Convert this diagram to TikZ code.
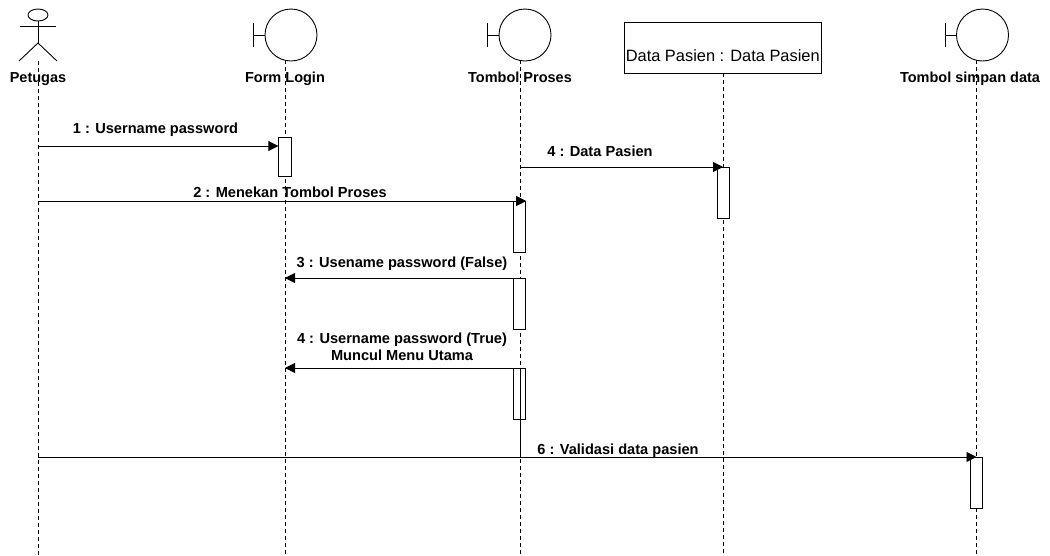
\documentclass[tikz,border=0pt]{standalone}
\usepackage{fontspec}
\setmainfont{Liberation Sans}
\usetikzlibrary{arrows.meta,shapes.geometric}
\tikzset{
  head/.style={draw, circle, minimum size=52pt, inner sep=0pt},
  life/.style={line width=0.8pt, dash pattern=on 4pt off 3pt},
  activation/.style={draw, line width=0.9pt, minimum width=12.5pt, inner sep=0pt},
  msg/.style={-{Triangle[length=10pt,width=10pt]}, line width=0.9pt},
  title/.style={font=\fontsize{14.5}{16}\selectfont\bfseries, inner sep=0pt, anchor=base},
  lbl/.style={font=\fontsize{14.6}{17}\selectfont\bfseries, inner sep=0pt, align=center, anchor=base}
}
\begin{document}
\begin{tikzpicture}[x=1pt, y=-1pt, line width=0.9pt]
    \useasboundingbox (0,0) rectangle (1050,555);
    % lifelines
    \coordinate (petugasTop) at (38,61);
    \coordinate (loginTop) at (285,60);
    \coordinate (prosesTop) at (520,60);
    \coordinate (pasienTop) at (723,73);
    \coordinate (simpanTop) at (976.5,60);
    \foreach \l in {petugas, login, proses, pasien, simpan}
      \draw [life] (\l Top) -- (\l Top |- 0,555);
    % actor
    \node (kepala) [draw, ellipse, minimum width=20pt, minimum height=12pt, inner sep=0pt] at (38,15) {};
    \coordinate (pinggul) at (38,43);
    \coordinate (tanganKiri) at (20,26);
    \coordinate (tanganKanan) at (56,26);
    \coordinate (kakiKiri) at (19,61);
    \coordinate (kakiKanan) at (57,61);
    \draw (kepala.south) -- (pinggul);
    \draw (tanganKiri) -- (tanganKanan);
    \draw (kakiKiri) -- (pinggul) -- (kakiKanan);
    % boundary objects
    \node (login) [head] at (291,35) {};
    \node (proses) [head] at (525,35) {};
    \node (simpan) [head] at (982.5,35) {};
    \foreach \b in {login, proses, simpan}
      \draw (\b.west) -- ++(-11,0) ++(0,-12) -- ++(0,24);
    \node (pasien) [draw, fill=white, minimum width=196.5pt, minimum height=51pt, inner sep=0pt] at (722.75,47.5) {};
    \node (pasienText) [font=\fontsize{16.4}{18}\selectfont, inner sep=0pt, anchor=base] at (722.75,61) {Data Pasien : Data Pasien};
    \node (petugasName) [title] at (38,82.5) {Petugas};
    \node (loginName) [title] at (285,82.5) {Form Login};
    \node (prosesName) [title] at (520,82.5) {Tombol Proses};
    \node (simpanName) [title] at (970,82.5) {Tombol simpan data};
    % activations
    \node (actLogin) [activation, fill=white, minimum height=39pt] at (285,156.5) {};
    \node (actPasien) [activation, fill=white, minimum height=51pt] at (723.5,192.5) {};
    \node (actDua) [activation, fill=white, minimum height=51pt] at (519.5,226.5) {};
    \node (actTiga) [activation, fill=white, minimum height=51pt] at (519.5,303.5) {};
    \node (actEmpat) [activation, minimum height=51pt] at (519.5,393.5) {};
    \node (actSimpan) [activation, fill=white, minimum height=51pt] at (976.5,482.5) {};
    \coordinate (bawahEmpat) at (520,457);
    \draw (prosesTop |- actEmpat.north) -- (bawahEmpat);
    % messages
    \coordinate (m1) at (38,146);
    \coordinate (m2) at (38,201);
    \coordinate (m6) at (38,457);
    \coordinate (m4) at (520,167);
    \coordinate (t3) at (285,278);
    \coordinate (t5) at (285,368);
    \draw [msg] (m1) -- (actLogin.west |- m1);
    \draw [msg] (m2) -- (actDua.east |- m2);
    \draw [msg] (m4) -- (pasienTop |- m4);
    \draw [msg] (actTiga.west |- t3) -- (t3);
    \draw [msg] (actEmpat.west |- t5) -- (t5);
    \draw [msg] (m6) -- (simpanTop |- m6);
    % labels
    \node (l1) [lbl] at (155.5,133.5) {1 : Username password};
    \node (l2) [lbl] at (290,197.5) {2 : Menekan Tombol Proses};
    \node (l3) [lbl] at (402,267) {3 : Usename password (False)};
    \node (l4) [lbl] at (600,156) {4 : Data Pasien};
    \node (l5) [lbl, anchor=center] at (402,346.5) {4 : Username password (True)\\Muncul Menu Utama};
    \node (l6) [lbl] at (618,454) {6 : Validasi data pasien};
  \end{tikzpicture}
\end{document}
